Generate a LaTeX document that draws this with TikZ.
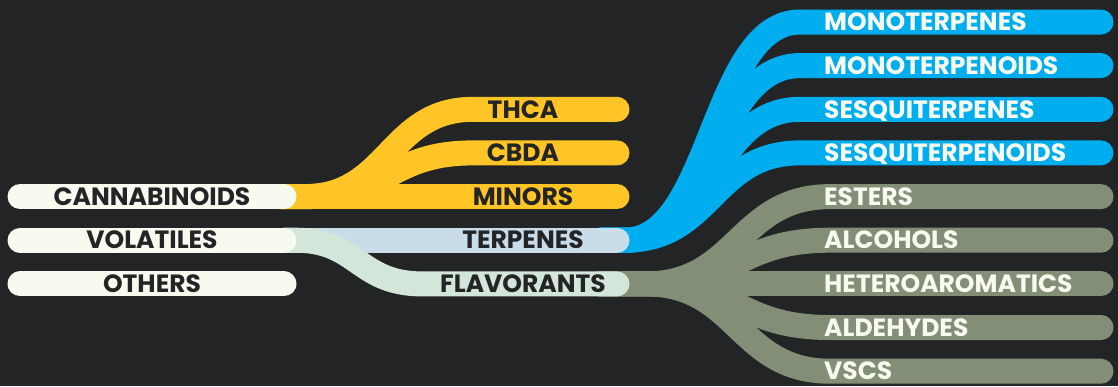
\documentclass[tikz,border=0pt]{standalone}
\usepackage{fontspec}
\setmainfont{Poppins}
\definecolor{bgc}{RGB}{35,36,38}
\definecolor{ylw}{RGB}{255,196,37}
\definecolor{blu}{RGB}{0,173,238}
\definecolor{grn}{RGB}{131,142,118}
\definecolor{lblu}{RGB}{201,220,234}
\definecolor{lgrn}{RGB}{211,230,217}
\definecolor{offw}{RGB}{248,250,240}
\definecolor{drk}{RGB}{35,36,38}
\tikzset{
  bar/.style={line width=25pt, line cap=round},
  lbl/.style={font=\fontsize{25}{25}\selectfont\bfseries, inner sep=0pt, anchor=base, yshift=-8.7pt},
  rlbl/.style={lbl, anchor=base west, text=offw},
  clbl/.style={lbl, text=drk},
}
\begin{document}
\begin{tikzpicture}[x=1pt,y=-1pt]
\fill[bgc] (0,0) rectangle (1118,386);
\useasboundingbox (0,0) rectangle (1118,386);
% rows
\foreach \n/\yy in {r0/22,r1/65.6,r2/109.3,r3/152.9,r4/196.6,r5/240.2,r6/283.9,r7/327.5,r8/371.2}{
  \coordinate (\n e) at (1101,\yy);
}
\coordinate (cann) at (280,196.6);
\coordinate (cannS) at (20,196.6);
\coordinate (vola) at (284,240.2);
\coordinate (volaS) at (20,240.2);
\coordinate (othS) at (20,283.9);
\coordinate (othE) at (284,283.9);
\coordinate (terpE) at (617,240.2);
\coordinate (flavE) at (617,283.9);
\coordinate (thcaE) at (617,109.3);
\coordinate (cbdaE) at (617,152.9);
\coordinate (minE) at (617,196.6);
% yellow fan
\draw[bar,ylw] (cann) -- (minE);
\draw[bar,ylw] (cann) -- ++(25,0) .. controls (389,196.6) and (389,109.3) .. (473,109.3) -- (thcaE);
\draw[bar,ylw] (cann) -- ++(25,0) .. controls (389,196.6) and (389,152.9) .. (473,152.9) -- (cbdaE);
% blue fan
\foreach \n/\yy in {r0/22,r1/65.6,r2/109.3,r3/152.9}{
  \draw[bar,blu] (terpE) ++(-17,0) -- (625,240.2) .. controls (712,240.2) and (712,\yy) .. (800,\yy) -- (\n e);
}
% green fan
\foreach \n/\yy in {r4/196.6,r5/240.2,r6/283.9,r7/327.5,r8/371.2}{
  \draw[bar,grn] (flavE) ++(-17,0) -- (646,283.9) .. controls (738,283.9) and (738,\yy) .. (830,\yy) -- (\n e);
}
% volatiles split
\draw[bar,lblu] (vola) -- (terpE);
\draw[bar,lgrn] (vola) -- ++(12,0) .. controls (358,240.2) and (358,283.9) .. (422,283.9) -- (flavE);
% left bars
\draw[bar,offw] (cannS) -- (cann -| othE);
\draw[bar,offw] (volaS) -- (vola);
\draw[bar,offw] (othS) -- (othE);
% labels
\node[clbl] (tcann) at (152,196.6) {CANNABINOIDS};
\node[clbl] (tvola) at (152,240.2) {VOLATILES};
\node[clbl] (toth) at (152,283.9) {OTHERS};
\node[clbl] (tthca) at (523,109.3) {THCA};
\node[clbl] (tcbda) at (523,152.9) {CBDA};
\node[clbl] (tmin) at (523,196.6) {MINORS};
\node[clbl] (tterp) at (523,240.2) {TERPENES};
\node[clbl] (tflav) at (523,283.9) {FLAVORANTS};
\node[rlbl] (t0) at (824,22) {MONOTERPENES};
\node[rlbl] (t1) at (824,65.6) {MONOTERPENOIDS};
\node[rlbl] (t2) at (824,109.3) {SESQUITERPENES};
\node[rlbl] (t3) at (824,152.9) {SESQUITERPENOIDS};
\node[rlbl] (t4) at (824,196.6) {ESTERS};
\node[rlbl] (t5) at (824,240.2) {ALCOHOLS};
\node[rlbl] (t6) at (824,283.9) {HETEROAROMATICS};
\node[rlbl] (t7) at (824,327.5) {ALDEHYDES};
\node[rlbl] (t8) at (824,371.2) {VSCS};
\end{tikzpicture}
\end{document}
